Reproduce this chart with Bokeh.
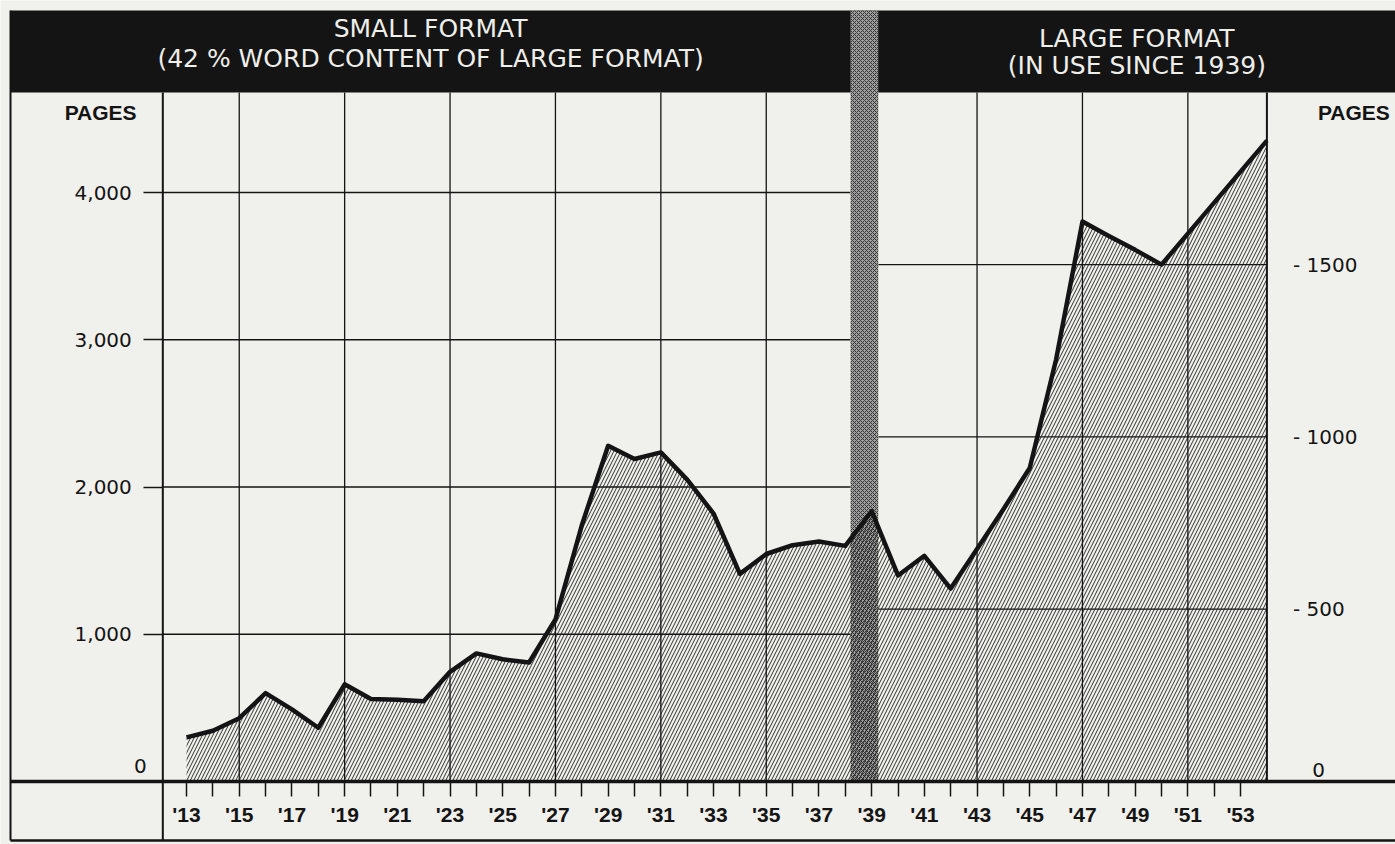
from bokeh.plotting import figure
from bokeh.models import Range1d, LinearAxis, FixedTicker, Label
from bokeh.embed import file_html
from bokeh.resources import INLINE

# ---------------- data ----------------
small_years = list(range(1913, 1939))
small_pages = [300, 345, 430, 600, 490, 365, 660, 560, 555, 545, 745, 870, 830, 808,
               1100, 1740, 2280, 2190, 2235, 2050, 1820, 1410, 1545, 1605, 1630, 1600]
large_years = list(range(1939, 1955))
large_pages = [785, 598, 655, 560, 675, 790, 910, 1225, 1625, 1583, 1543, 1500,
               1590, 1680, 1770, 1860]

left_ticks = [1000, 2000, 3000, 4000]
left_tick_labels = ["1,000", "2,000", "3,000", "4,000"]
right_ticks = [500, 1000, 1500]
right_tick_labels = ["- 500", "- 1000", "- 1500"]
label_years = list(range(1913, 1954, 2))
minor_years = list(range(1914, 1954, 2))
year_labels = ["'" + str(y)[2:] for y in label_years]
grid_years = [1915, 1919, 1923, 1927, 1931, 1935, 1943, 1947, 1951]

header_left = ["SMALL FORMAT", "(42 % WORD CONTENT OF LARGE FORMAT)"]
header_right = ["LARGE FORMAT", "(IN USE SINCE 1939)"]

# small-format pages per large-format page (scale of the right axis)
LARGE_TO_SMALL = 2.34

# ---------------- layout constants ----------------
X0, X1 = 1905.94, 1958.88
Y0, Y1 = -427.8, 5303.9
X_AXIS = 1912.1
X_END = 1954.0
BAND = (1938.2, 1939.25)
HEADER = (4679.0, 5236.0)
X_OUTER = 1906.32
Y_BOTTOM = -400.0

BG = "#f0f0ec"
INK = "#141414"
NUM_FONT = "DejaVu Sans"
BOLD_FONT = "Liberation Sans"

p = figure(width=1395, height=844, x_range=Range1d(X0, X1), y_range=Range1d(Y0, Y1),
           output_backend="svg", toolbar_location=None, min_border=0,
           x_axis_type=None, y_axis_type=None)
p.extra_y_ranges = {"large": Range1d(Y0 / LARGE_TO_SMALL, Y1 / LARGE_TO_SMALL)}
p.outline_line_color = None
p.background_fill_color = BG
p.border_fill_color = BG

# combined curve in small-format units
all_years = small_years + large_years
all_vals = small_pages + [v * LARGE_TO_SMALL for v in large_pages]

# ---------------- grid / frame lines ----------------
p.segment(x0=[X_AXIS] * len(left_ticks), x1=[BAND[0]] * len(left_ticks),
          y0=left_ticks, y1=left_ticks, line_color=INK, line_width=1.3)
p.segment(x0=[BAND[1]] * len(right_ticks), x1=[X_END] * len(right_ticks),
          y0=right_ticks, y1=right_ticks, line_color=INK, line_width=1.3,
          y_range_name="large")
p.segment(x0=grid_years, x1=grid_years, y0=[0] * len(grid_years),
          y1=[HEADER[0]] * len(grid_years), line_color=INK, line_width=1.3)
p.segment(x0=[X_AXIS, X_END, X_OUTER], x1=[X_AXIS, X_END, X_OUTER],
          y0=[Y_BOTTOM, 0, Y_BOTTOM], y1=[HEADER[0], HEADER[0], HEADER[1]],
          line_color=INK, line_width=2)
p.segment(x0=[X_OUTER], x1=[X1], y0=[Y_BOTTOM], y1=[Y_BOTTOM], line_color=INK, line_width=2.5)

# header band
p.quad(left=[X_OUTER], right=[X1], bottom=[HEADER[0]], top=[HEADER[1]],
       fill_color=INK, line_color=None)

# separator band (1938-39)
p.quad(left=[BAND[0]], right=[BAND[1]], bottom=[0], top=[HEADER[1]],
       fill_color="#a0a0a0", line_color=None,
       hatch_pattern="x", hatch_color="#333333", hatch_scale=4, hatch_weight=1)

# hatched area + curve
p.varea(x=all_years, y1=[0] * len(all_years), y2=all_vals, fill_color=None,
        hatch_pattern="/", hatch_color="#1a1a1a", hatch_scale=7, hatch_weight=0.9)
p.line(all_years, all_vals, line_color=INK, line_width=4.5, line_join="round")

# baseline
p.segment(x0=[X_OUTER], x1=[X1], y0=[0], y1=[0], line_color=INK, line_width=3.5)

# ---------------- axes ----------------
ax_left = LinearAxis(fixed_location=X_AXIS, ticker=FixedTicker(ticks=left_ticks),
                     major_label_overrides=dict(zip(left_ticks, left_tick_labels)),
                     axis_line_color=None, major_tick_out=19, major_tick_in=0,
                     minor_tick_out=0, minor_tick_in=0,
                     major_tick_line_color=INK, major_tick_line_width=1.3,
                     major_label_standoff=12,
                     major_label_text_font=NUM_FONT, major_label_text_font_size="20px",
                     major_label_text_color=INK)
p.add_layout(ax_left, "left")

ax_bottom = LinearAxis(fixed_location=0, bounds=(X_AXIS, X_END),
                       ticker=FixedTicker(ticks=label_years, minor_ticks=minor_years),
                       major_label_overrides=dict(zip(label_years, year_labels)),
                       axis_line_color=None, major_tick_out=15, major_tick_in=0,
                       minor_tick_out=15, minor_tick_in=0,
                       major_tick_line_color=INK, minor_tick_line_color=INK,
                       major_tick_line_width=1.5, minor_tick_line_width=1.5,
                       major_label_standoff=6,
                       major_label_text_font=BOLD_FONT, major_label_text_font_size="21px",
                       major_label_text_font_style="bold", major_label_text_color=INK)
p.add_layout(ax_bottom, "below")

ax_right = LinearAxis(y_range_name="large", fixed_location=X_END,
                      ticker=FixedTicker(ticks=right_ticks),
                      major_label_overrides=dict(zip(right_ticks, right_tick_labels)),
                      axis_line_color=None, major_tick_out=0, major_tick_in=0,
                      minor_tick_out=0, minor_tick_in=0,
                      major_label_standoff=26,
                      major_label_text_font=NUM_FONT, major_label_text_font_size="20px",
                      major_label_text_color=INK)
p.add_layout(ax_right, "right")

# ---------------- texts ----------------
def add_label(x, y, text, font, size, style="normal", color=INK):
    p.add_layout(Label(x=x, y=y, text=text, text_font=font, text_font_size=size,
                       text_font_style=style, text_color=color, text_align="center",
                       text_baseline="middle"))

add_label(1909.74, 4543, "PAGES", BOLD_FONT, "21px", "bold")
add_label(1957.3, 4543, "PAGES", BOLD_FONT, "21px", "bold")
add_label(1911.25, 108, "0", NUM_FONT, "20px")
add_label(1955.96, 75, "0", NUM_FONT, "20px")

HL = (X_OUTER + BAND[0]) / 2
HR = (BAND[1] + X1) / 2
add_label(HL, 5114, header_left[0], NUM_FONT, "25px", color="#eeeeea")
add_label(HL, 4910, header_left[1], NUM_FONT, "25px", color="#eeeeea")
add_label(HR, 5046, header_right[0], NUM_FONT, "25px", color="#eeeeea")
add_label(HR, 4862, header_right[1], NUM_FONT, "25px", color="#eeeeea")

open("out.html", "w").write(file_html(p, INLINE))
